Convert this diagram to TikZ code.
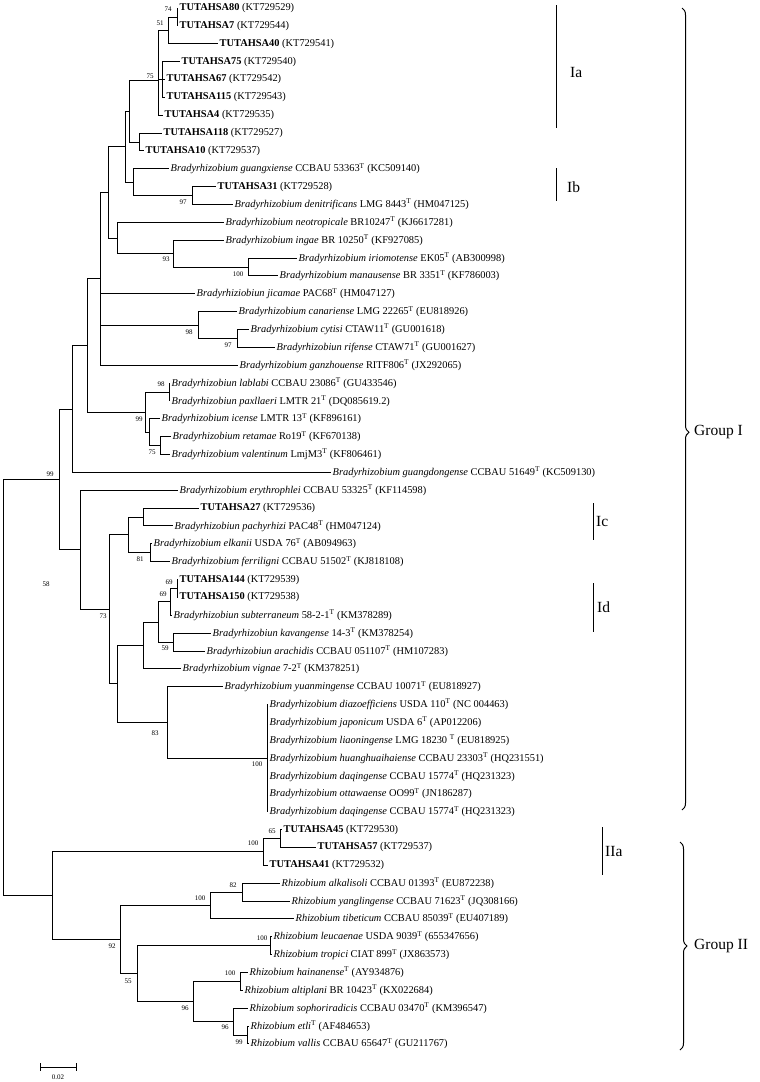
\documentclass[tikz,border=0pt]{standalone}
\usepackage{fontspec}
\setmainfont{Liberation Serif}
\usetikzlibrary{decorations.pathreplacing}

\newcommand{\tut}[2]{\textbf{#1} (#2)}
\newcommand{\typ}{\textsuperscript{T}}

\begin{document}
\begin{tikzpicture}[x=1pt,y=-1pt,
  leaf/.style={anchor=west,inner sep=1.5pt,font=\fontsize{10.4}{12}\selectfont},
  bs/.style={inner sep=0pt,font=\fontsize{7}{8}\selectfont},
  clade/.style={anchor=west,inner sep=1pt,font=\fontsize{15.5}{18}\selectfont},
  br/.style={line width=0.9pt},
  bar/.style={line width=1pt},
  grp/.style={line width=1pt,decorate,decoration={brace,amplitude=7pt,aspect=#1}}]
  \useasboundingbox (0,0) rectangle (760,1082);

  % leaves, top to bottom
  \foreach \tx/\lab [count=\i] in {
    178/{\tut{TUTAHSA80}{KT729529}},
    178/{\tut{TUTAHSA7}{KT729544}},
    218/{\tut{TUTAHSA40}{KT729541}},
    180/{\tut{TUTAHSA75}{KT729540}},
    165/{\tut{TUTAHSA67}{KT729542}},
    165/{\tut{TUTAHSA115}{KT729543}},
    163/{\tut{TUTAHSA4}{KT729535}},
    162/{\tut{TUTAHSA118}{KT729527}},
    144/{\tut{TUTAHSA10}{KT729537}},
    169/{\textit{Bradyrhizobium guangxiense} CCBAU 53363\typ{} (KC509140)},
    216/{\tut{TUTAHSA31}{KT729528}},
    233/{\textit{Bradyrhizobium denitrificans} LMG 8443\typ{} (HM047125)},
    224/{\textit{Bradyrhizobium neotropicale} BR10247\typ{} (KJ6617281)},
    224/{\textit{Bradyrhizobium ingae} BR 10250\typ{} (KF927085)},
    297/{\textit{Bradyrhizobium iriomotense} EK05\typ{} (AB300998)},
    278/{\textit{Bradyrhizobium manausense} BR 3351\typ{} (KF786003)},
    195/{\textit{Bradyrhiziobiun jicamae} PAC68\typ{} (HM047127)},
    237/{\textit{Bradyrhizobium canariense} LMG 22265\typ{} (EU818926)},
    249/{\textit{Bradyrhizobium cytisi} CTAW11\typ{} (GU001618)},
    275/{\textit{Bradyrhizobiun rifense} CTAW71\typ{} (GU001627)},
    238/{\textit{Bradyrhizobium ganzhouense} RITF806\typ{} (JX292065)},
    170/{\textit{Bradyrhizobiun lablabi} CCBAU 23086\typ{} (GU433546)},
    170/{\textit{Bradyrhizobiun paxllaeri} LMTR 21\typ{} (DQ085619.2)},
    160/{\textit{Bradyrhizobium icense} LMTR 13\typ{} (KF896161)},
    171/{\textit{Bradyrhizobium retamae} Ro19\typ{} (KF670138)},
    170/{\textit{Bradyrhizobium valentinum} LmjM3\typ{} (KF806461)},
    331/{\textit{Bradyrhizobium guangdongense} CCBAU 51649\typ{} (KC509130)},
    178/{\textit{Bradyrhizobium erythrophlei} CCBAU 53325\typ{} (KF114598)},
    199/{\tut{TUTAHSA27}{KT729536}},
    173/{\textit{Bradyrhizobiun pachyrhizi} PAC48\typ{} (HM047124)},
    152/{\textit{Bradyrhizobium elkanii} USDA 76\typ{} (AB094963)},
    170/{\textit{Bradyrhizobium ferriligni} CCBAU 51502\typ{} (KJ818108)},
    178/{\tut{TUTAHSA144}{KT729539}},
    178/{\tut{TUTAHSA150}{KT729538}},
    172/{\textit{Bradyrhizobiun subterraneum} 58-2-1\typ{} (KM378289)},
    211/{\textit{Bradyrhizobiun kavangense} 14-3\typ{} (KM378254)},
    205/{\textit{Bradyrhizobiun arachidis} CCBAU 051107\typ{} (HM107283)},
    181/{\textit{Bradyrhizobium vignae} 7-2\typ{} (KM378251)},
    223/{\textit{Bradyrhizobium yuanmingense} CCBAU 10071\typ{} (EU818927)},
    268/{\textit{Bradyrhizobium diazoefficiens} USDA 110\typ{} (NC 004463)},
    268/{\textit{Bradyrhizobium japonicum} USDA 6\typ{} (AP012206)},
    268/{\textit{Bradyrhizobium liaoningense} LMG 18230 \typ{} (EU818925)},
    268/{\textit{Bradyrhizobium huanghuaihaiense} CCBAU 23303\typ{} (HQ231551)},
    268/{\textit{Bradyrhizobium daqingense} CCBAU 15774\typ{} (HQ231323)},
    268/{\textit{Bradyrhizobium ottawaense} OO99\typ{} (JN186287)},
    268/{\textit{Bradyrhizobium daqingense} CCBAU 15774\typ{} (HQ231323)},
    282/{\tut{TUTAHSA45}{KT729530}},
    316/{\tut{TUTAHSA57}{KT729537}},
    268/{\tut{TUTAHSA41}{KT729532}},
    280/{\textit{Rhizobium alkalisoli} CCBAU 01393\typ{} (EU872238)},
    290/{\textit{Rhizobium yanglingense} CCBAU 71623\typ{} (JQ308166)},
    294/{\textit{Rhizobium tibeticum} CCBAU 85039\typ{} (EU407189)},
    272/{\textit{Rhizobium leucaenae} USDA 9039\typ{} (655347656)},
    272/{\textit{Rhizobium tropici} CIAT 899\typ{} (JX863573)},
    248/{\textit{Rhizobium hainanense}\typ{} (AY934876)},
    243/{\textit{Rhizobium altiplani} BR 10423\typ{} (KX022684)},
    248/{\textit{Rhizobium sophoriradicis} CCBAU 03470\typ{} (KM396547)},
    249/{\textit{Rhizobium etli}\typ{} (AF484653)},
    249/{\textit{Rhizobium vallis} CCBAU 65647\typ{} (GU211767)}}{
    \node[leaf] (l\i) at (\tx,{8+17.86*(\i-1)}) {\lab};
  }

  % inner nodes
  \coordinate (n74) at (177,17.0);
  \coordinate (n51) at (168,30.4);
  \coordinate (nSub) at (162,79.4);
  \coordinate (n75) at (158,80);
  \coordinate (n118) at (139,142.0);
  \coordinate (nA) at (129,111);
  \coordinate (n97b) at (192,195.6);
  \coordinate (nC) at (133,182.2);
  \coordinate (nB) at (125.5,146.6);
  \coordinate (n100i) at (248,267.0);
  \coordinate (n93) at (173,253.6);
  \coordinate (nE) at (117,238.0);
  \coordinate (nD) at (108,192.3);
  \coordinate (n97c) at (237,338.4);
  \coordinate (n98c) at (198,325.0);
  \coordinate (nF) at (100,278.8);
  \coordinate (n98l) at (169,392.0);
  \coordinate (n75r) at (160,445.6);
  \coordinate (nG) at (149,432.2);
  \coordinate (n99i) at (145,412.1);
  \coordinate (nI) at (87,345.5);
  \coordinate (nH) at (72,409.0);
  \coordinate (n81) at (150,552.8);
  \coordinate (n27) at (143,517.0);
  \coordinate (nc) at (128,534.9);
  \coordinate (n69a) at (177,588.5);
  \coordinate (n69b) at (170,601.9);
  \coordinate (n59) at (173,642.1);
  \coordinate (nJ) at (158,622.0);
  \coordinate (nK) at (143,645.4);
  \coordinate (n100j) at (267,758.1);
  \coordinate (n83) at (167,722.4);
  \coordinate (nL) at (117,683.9);
  \coordinate (n73) at (109,609.4);
  \coordinate (n58) at (80,549.8);
  \coordinate (n99) at (59,479.4);
  \coordinate (n65) at (280,838.5);
  \coordinate (n100a) at (263,851.9);
  \coordinate (n82) at (242,892.0);
  \coordinate (n100r) at (210,905.5);
  \coordinate (n100t) at (270,945.6);
  \coordinate (n100h) at (240,981.4);
  \coordinate (n99e) at (247,1035.0);
  \coordinate (n96b) at (233,1021.6);
  \coordinate (n96a) at (193,1001.5);
  \coordinate (n55) at (137,973.6);
  \coordinate (n92) at (120,939.6);
  \coordinate (nII) at (52,895.8);
  \coordinate (root) at (3,687.6);

  % branches
  \foreach \p/\c in {n74/l1,n74/l2,n51/n74,n51/l3,nSub/l4,nSub/l5,nSub/l6,
      n75/n51,n75/nSub,n75/l7,n118/l8,n118/l9,nA/n75,nA/n118,
      n97b/l11,n97b/l12,nC/l10,nC/n97b,nB/nA,nB/nC,
      n100i/l15,n100i/l16,n93/l14,n93/n100i,nE/l13,nE/n93,nD/nB,nD/nE,
      n97c/l19,n97c/l20,n98c/l18,n98c/n97c,nF/nD,nF/l17,nF/n98c,nF/l21,
      n98l/l22,n98l/l23,n75r/l25,n75r/l26,nG/l24,nG/n75r,n99i/n98l,n99i/nG,
      nI/nF,nI/n99i,nH/nI,nH/l27,
      n81/l31,n81/l32,n27/l29,n27/l30,nc/n27,nc/n81,
      n69a/l33,n69a/l34,n69b/n69a,n69b/l35,n59/l36,n59/l37,nJ/n69b,nJ/n59,
      nK/nJ,nK/l38,n100j/l40,n100j/l41,n100j/l42,n100j/l43,n100j/l44,
      n100j/l45,n100j/l46,n83/l39,n83/n100j,nL/nK,nL/n83,n73/nc,n73/nL,
      n58/l28,n58/n73,n99/nH,n99/n58,
      n65/l47,n65/l48,n100a/n65,n100a/l49,n82/l50,n82/l51,n100r/n82,n100r/l52,
      n100t/l53,n100t/l54,n100h/l55,n100h/l56,n99e/l58,n99e/l59,n96b/l57,
      n96b/n99e,n96a/n100h,n96a/n96b,n55/n100t,n55/n96a,n92/n100r,n92/n55,
      nII/n100a,nII/n92,root/n99,root/nII}
    \draw[br] (\p) |- (\c);

  % bootstrap values
  \foreach \bx/\by/\bv [count=\k] in {168/9/74,160/23/51,150/76/75,183/202/97,
      166/259/93,238/274/100,189/332/98,228/345/97,161/384/98,139/419/99,
      152/452/75,50/474/99,140/559/81,169/582/69,163/594/69,165/648/59,
      103/616/73,155/733/83,257/764/100,46/584/58,
      272/831/65,253/843/100,233/885/82,200/898/100,262/938/100,112/946/92,
      128/981/55,230/973/100,185/1008/96,225/1027/96,239/1042/99}
    \node[bs] (b\k) at (\bx,\by) {\bv};

  % subgroups
  \coordinate (iaT) at (556,5);   \coordinate (iaB) at (556,128);
  \coordinate (ibT) at (556,168); \coordinate (ibB) at (556,201);
  \coordinate (icT) at (593,503); \coordinate (icB) at (593,540);
  \coordinate (idT) at (593,583); \coordinate (idB) at (593,632);
  \coordinate (iiaT) at (602,827); \coordinate (iiaB) at (602,875);
  \draw[bar] (iaT) -- (iaB);
  \draw[bar] (ibT) -- (ibB);
  \draw[bar] (icT) -- (icB);
  \draw[bar] (idT) -- (idB);
  \draw[bar] (iiaT) -- (iiaB);
  \node[clade] (ia) at (569,72) {Ia};
  \node[clade] (ib) at (566,187) {Ib};
  \node[clade] (ic) at (595,521) {Ic};
  \node[clade] (id) at (596,607) {Id};
  \node[clade] (iia) at (604,851) {IIa};

  % groups
  \coordinate (g1T) at (682,8);   \coordinate (g1B) at (682,810);
  \coordinate (g2T) at (680,842); \coordinate (g2B) at (680,1050);
  \draw[grp=0.529] (g1T) -- (g1B);
  \draw[grp=0.5] (g2T) -- (g2B);
  \node[clade] (g1) at (693,432) {Group I};
  \node[clade] (g2) at (693,946) {Group II};

  % scale
  \coordinate (sL) at (40,1067); \coordinate (sR) at (77,1067);
  \draw[line width=0.8pt,|-|] (sL) -- (sR);
  \node[bs] (s02) at (58,1077) {0.02};
\end{tikzpicture}
\end{document}
